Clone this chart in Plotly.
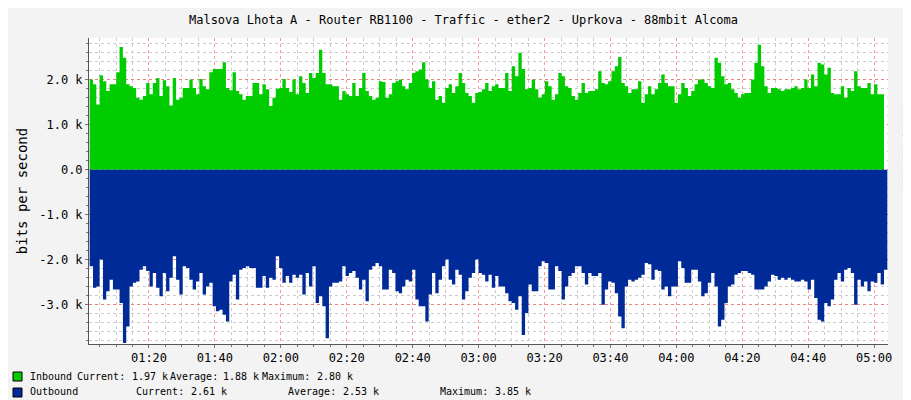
import pandas as pd
import plotly.graph_objects as go

# Traffic values in k bits/s, one sample per ~minute from 01:02
inbound = [2.01, 1.90, 1.45, 2.10, 1.97, 1.75, 1.90, 1.90, 2.17, 2.73, 2.49, 1.90, 1.86, 1.82, 1.60, 1.56, 1.64, 1.93, 1.68, 1.93,
           2.04, 1.64, 1.99, 1.86, 1.43, 2.04, 1.56, 1.60, 1.82, 1.82, 2.01, 1.82, 1.68, 2.02, 1.86, 1.79, 2.17, 2.24, 2.24, 2.24,
           2.39, 1.82, 1.77, 2.17, 1.75, 1.68, 1.56, 1.64, 1.64, 1.93, 1.93, 1.68, 1.90, 1.79, 1.42, 1.60, 1.80, 1.82, 2.02, 1.82,
           1.73, 2.01, 1.68, 2.08, 1.93, 1.71, 2.15, 2.04, 2.15, 2.67, 2.15, 1.90, 1.90, 1.86, 1.86, 1.56, 1.75, 1.68, 1.64, 1.93,
           1.64, 1.82, 2.15, 1.75, 1.64, 1.56, 1.60, 1.97, 1.95, 1.60, 1.68, 1.93, 1.97, 2.01, 1.86, 1.79, 1.93, 2.15, 2.19, 2.23,
           2.39, 2.01, 1.82, 1.97, 1.56, 1.64, 1.49, 1.82, 1.90, 1.71, 1.86, 2.15, 1.93, 1.71, 1.64, 1.49, 1.71, 1.73, 1.79, 1.93,
           1.75, 1.86, 1.90, 1.82,
           1.82, 2.15, 1.75, 2.30, 2.08, 2.60, 2.24, 1.79, 1.82, 2.01, 1.79, 1.60, 1.68, 1.97, 1.86, 1.56, 1.68, 2.15, 2.08, 1.86,
           1.82, 1.64, 1.56, 1.71, 1.93, 1.71, 1.75, 1.75, 1.79, 2.19, 1.93, 1.90, 1.97, 2.19, 2.30, 2.51, 1.93, 1.86, 1.71, 1.79,
           1.79, 1.97, 1.49, 1.68, 1.86, 1.68, 1.79, 1.93, 2.12, 1.93, 1.86, 1.86, 1.49, 1.68, 1.93, 1.82, 1.64, 1.75, 1.90, 2.01,
           2.01, 1.93, 1.86, 1.82, 2.49, 2.38, 2.08, 1.90, 1.93, 1.79, 1.71, 1.60, 1.68, 1.71, 1.71, 2.01, 2.38, 2.78, 2.30, 1.86,
           1.71, 1.82, 1.82, 1.79, 1.75, 1.79, 1.79, 1.82, 1.86, 1.79, 1.82, 2.01, 1.82, 2.12, 1.86, 2.38, 2.34, 2.12, 2.27, 1.71,
           1.68, 1.68, 1.86, 1.60, 1.82, 1.75, 2.19, 1.86, 1.82, 1.82, 1.93, 1.68, 1.90, 1.68, 1.68, 1.97]

outbound = [2.14, 2.62, 2.59, 1.99, 2.88, 2.70, 2.44, 2.66, 2.66, 2.96, 3.85, 3.48, 2.59, 2.51, 2.48, 2.22, 2.14, 2.25, 2.59, 2.29,
            2.62, 2.81, 2.29, 2.70, 2.40, 1.92, 2.44, 2.77, 2.14, 2.18, 2.44, 2.66, 2.48, 2.29, 2.77, 2.59, 2.51, 3.03, 3.14, 3.11,
            3.22, 3.37, 2.48, 2.33, 2.88, 2.22, 2.18, 2.14, 2.18, 2.18, 2.62, 2.62, 2.36, 2.62, 2.40, 2.44, 1.92, 2.18, 2.51, 2.36,
            2.51, 2.33, 2.40, 2.33, 2.77, 2.29, 2.59, 2.14, 2.96, 2.81, 3.03, 3.74, 2.59, 2.51, 2.51, 2.48, 2.14, 2.36, 2.29, 2.25,
            2.40, 2.66, 2.44, 2.92, 2.22, 2.14, 2.07, 2.14, 2.66, 2.66, 2.22, 2.29, 2.70, 2.74, 2.59, 2.44, 2.48, 2.22, 2.88, 3.03,
            3.03, 3.37, 2.77, 2.29, 2.74, 2.44, 2.14, 1.99, 2.44, 2.55, 2.22, 2.33, 2.88, 2.70, 2.40, 2.29, 1.99, 2.29, 2.33, 2.48,
            2.33, 2.62, 2.36, 2.59, 2.59,
            2.74, 2.92, 2.96, 3.11, 2.81, 3.67, 3.18, 2.55, 2.70, 2.70, 2.14, 2.03, 2.07, 2.66, 2.66, 2.14, 2.25, 2.88, 2.59, 2.36,
            2.29, 2.14, 2.14, 2.29, 2.55, 2.29, 2.36, 2.36, 2.29, 3.00, 2.66, 2.48, 2.51, 2.74, 3.26, 3.52, 2.59, 2.44, 2.48, 2.44,
            2.40, 2.33, 2.07, 2.10, 2.44, 2.22, 2.25, 2.66, 2.59, 2.81, 2.59, 2.59, 2.03, 2.18, 2.51, 2.51, 2.22, 2.22, 2.48, 2.81,
            2.74, 2.51, 2.29, 2.59, 3.48, 3.33, 2.96, 2.59, 2.55, 2.33, 2.29, 2.25, 2.25, 2.29, 2.33, 2.66, 2.66, 2.66, 2.59, 2.48,
            2.33, 2.36, 2.44, 2.40, 2.44, 2.40, 2.44, 2.48, 2.48, 2.44, 2.48, 2.66, 2.44, 2.85, 3.33, 3.37, 2.96, 3.03, 2.88, 2.44,
            2.29, 2.48, 2.22, 2.18, 2.29, 3.00, 2.44, 2.59, 2.48, 2.70, 2.48, 2.51, 2.29, 2.55, 2.22, 2.62]

y_tickvals = [-3000, -2000, -1000, 0, 1000, 2000]
y_ticktext = ['-3.0 k', '-2.0 k', '-1.0 k', '0.0', '1.0 k', '2.0 k']

row1 = [('Inbound', 20), ('Current:', 67), ('1.97 k', 122), ('Average:', 160), ('1.88 k', 213),
        ('Maximum:', 252), ('2.80 k', 307)]
row2 = [('Outbound', 20), ('Current:', 126), ('2.61 k', 181), ('Average:', 278), ('2.53 k', 333),
        ('Maximum:', 430), ('3.85 k', 485)]

start = pd.Timestamp('2024-01-01 01:02:00')
step = pd.Timedelta(seconds=60.5)
t_in = [start + i * step for i in range(len(inbound))]
t_out = [start + i * step for i in range(len(outbound))]

FONT = 'DejaVu Sans Mono'
fig = go.Figure()
fig.add_trace(go.Scatter(x=t_in, y=[v * 1000 for v in inbound], mode='lines', line_shape='hv',
                         line=dict(width=0, color='#00cc00'), fill='tozeroy', fillcolor='#00cc00'))
fig.add_trace(go.Scatter(x=t_out, y=[-v * 1000 for v in outbound], mode='lines', line_shape='hv',
                         line=dict(width=0, color='#002a97'), fill='tozeroy', fillcolor='#002a97'))

L, R, T, B = 81, 31, 30, 64
pw, ph = 911 - L - R, 400 - T - B

def px(x):
    return (x - L) / pw

def py(y):
    return (400 - B - y) / ph

fig.update_layout(
    width=911, height=400, margin=dict(l=L, r=R, t=T, b=B, autoexpand=False),
    paper_bgcolor='#f3f3f3', plot_bgcolor='white', showlegend=False,
    font=dict(family=FONT, size=12, color='#000'),
    title=dict(text='Malsova Lhota A - Router RB1100 - Traffic - ether2 - Uprkova - 88mbit Alcoma',
               x=0.5, xanchor='center', y=0.97, yanchor='middle', font=dict(size=12), automargin=False),
)
fig.update_xaxes(
    automargin=False,
    range=[pd.Timestamp('2024-01-01 01:01:48'), pd.Timestamp('2024-01-01 05:04:12')],
    tickformat='%H:%M', dtick=20 * 60 * 1000, tick0='2024-01-01 01:00:00',
    showgrid=True, gridcolor='rgba(255,80,80,0.6)', griddash='dot', gridwidth=1,
    minor=dict(dtick=5 * 60 * 1000, showgrid=True, gridcolor='#cccccc', griddash='dot',
               ticks='outside', ticklen=2, tickcolor='#777'),
    ticks='outside', ticklen=3, tickcolor='#777', showline=True, linecolor='#555',
    zeroline=False, fixedrange=True,
)
fig.update_yaxes(
    automargin=False,
    range=[-3870, 2930], tickvals=y_tickvals, ticktext=y_ticktext,
    showgrid=True, gridcolor='rgba(255,80,80,0.6)', griddash='dot',
    minor=dict(dtick=200, showgrid=True, gridcolor='#cccccc', griddash='dot',
               ticks='outside', ticklen=2, tickcolor='#777'),
    ticks='outside', ticklen=3, tickcolor='#777', showline=True, linecolor='#555',
    zeroline=False, title=dict(text='bits per second', standoff=8),
)

ann = []
for row, yy in ((row1, 368), (row2, 384)):
    for text, xx in row:
        ann.append(dict(text=text, x=px(xx), y=py(yy), xref='paper', yref='paper',
                        xanchor='left', yanchor='middle', showarrow=False,
                        font=dict(size=10)))
ann.append(dict(text='RRDTOOL / TOBI OETIKER', x=px(903), y=py(90), xref='paper', yref='paper',
                textangle=90, showarrow=False, font=dict(size=7, color='#999')))
fig.update_layout(annotations=ann)

shapes = []
for yy, col in ((368, '#00cc00'), (384, '#002a97')):
    shapes.append(dict(type='rect', xref='paper', yref='paper', x0=px(5), x1=px(14),
                       y0=py(yy + 5), y1=py(yy - 4), fillcolor=col, line=dict(color='black', width=1)))
fig.update_layout(shapes=shapes)

fig.write_html('out.html')
